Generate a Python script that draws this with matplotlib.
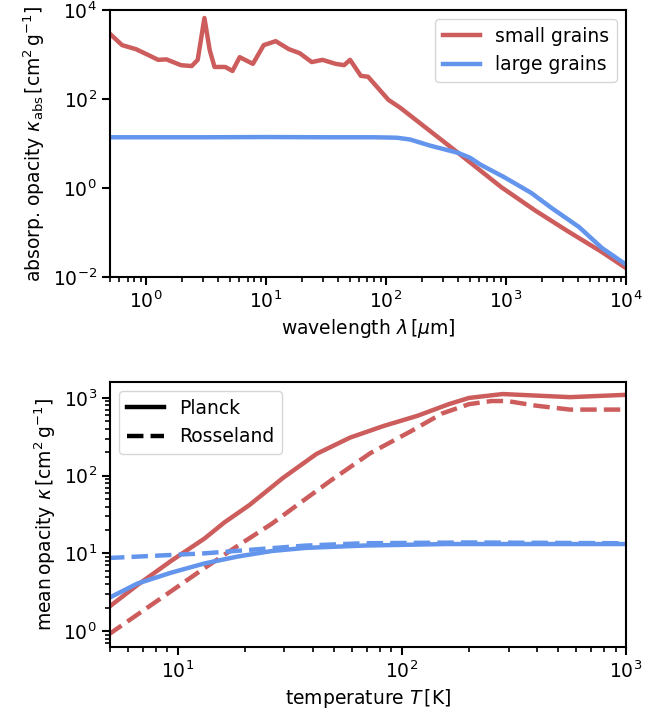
import numpy as np
import matplotlib
matplotlib.use("Agg")
import matplotlib.pyplot as plt
from matplotlib.ticker import NullLocator

# ---- top panel data: log10(wavelength [um]) and log10(kappa_abs [cm^2/g]) ----
small_loglam = [-0.30, -0.20, -0.085, 0.017, 0.10, 0.17, 0.29, 0.38, 0.43, 0.486, 0.53, 0.57,
                0.66, 0.72, 0.78, 0.89, 0.98, 1.08, 1.19, 1.28, 1.38, 1.47, 1.58, 1.65, 1.70,
                1.79, 1.85, 2.02, 2.12, 2.60, 2.96, 3.24, 3.52, 3.80, 4.0]
small_logk = [3.46, 3.21, 3.12, 2.99, 2.88, 2.89, 2.76, 2.74, 2.88, 3.82, 3.10, 2.72,
              2.72, 2.63, 2.94, 2.79, 3.21, 3.30, 3.12, 3.03, 2.83, 2.88, 2.79, 2.76, 2.88,
              2.52, 2.50, 1.98, 1.80, 0.79, 0.02, -0.50, -0.98, -1.44, -1.80]
large_loglam = [-0.30, 0.5, 1.0, 1.5, 1.9, 2.09, 2.20, 2.37, 2.50, 2.60, 2.70, 2.79, 2.98,
                3.07, 3.21, 3.38, 3.61, 3.80, 4.0]
large_logk = [1.14, 1.14, 1.145, 1.14, 1.14, 1.13, 1.09, 0.95, 0.86, 0.79, 0.68, 0.52, 0.25,
              0.11, -0.11, -0.45, -0.88, -1.35, -1.72]

# ---- bottom panel data: log10(T [K]) and log10(mean kappa [cm^2/g]) ----
sp_logT = [0.69, 0.82, 0.97, 1.12, 1.21, 1.32, 1.47, 1.62, 1.77, 1.92, 2.07, 2.21, 2.30,
           2.45, 2.60, 2.75, 3.0]
sp_logk = [0.30, 0.59, 0.90, 1.19, 1.40, 1.62, 1.97, 2.28, 2.49, 2.64, 2.77, 2.92, 3.00,
           3.05, 3.03, 3.01, 3.04]
sr_logT = [0.69, 0.82, 0.97, 1.12, 1.27, 1.42, 1.50, 1.68, 1.86, 2.04, 2.18, 2.30, 2.40,
           2.47, 2.60, 2.75, 3.0]
sr_logk = [-0.05, 0.21, 0.51, 0.81, 1.10, 1.38, 1.55, 1.93, 2.29, 2.57, 2.80, 2.92, 2.96,
           2.96, 2.90, 2.85, 2.85]
lp_logT = [0.69, 0.82, 0.97, 1.12, 1.27, 1.42, 1.57, 1.83, 2.2, 3.0]
lp_logk = [0.42, 0.61, 0.75, 0.87, 0.96, 1.03, 1.07, 1.10, 1.12, 1.12]
lr_logT = [0.69, 1.12, 1.57, 1.83, 2.3, 3.0]
lr_logk = [0.94, 1.00, 1.10, 1.13, 1.14, 1.13]

RED = "#CD5C5C"
BLUE = "#6495ED"

plt.rcParams['font.size'] = 13.5
plt.rcParams['mathtext.fontset'] = 'dejavusans'

fig = plt.figure(figsize=(6.70, 7.27), dpi=100)
W, H = 670, 727
ax1 = fig.add_axes([110 / W, 1 - 277 / H, 516 / W, 267 / H])
ax2 = fig.add_axes([110 / W, 1 - 647 / H, 516 / W, 265 / H])

p = lambda a: 10 ** np.asarray(a)

ax1.plot(p(small_loglam), p(small_logk), color=RED, lw=3.2, label="small grains")
ax1.plot(p(large_loglam), p(large_logk), color=BLUE, lw=3.2, label="large grains")
ax1.set_xscale("log")
ax1.set_yscale("log")
ax1.set_xlim(0.5, 1e4)
ax1.set_ylim(1e-2, 1e4)
ax1.set_yticks([1e-2, 1e0, 1e2, 1e4])
ax1.yaxis.set_minor_locator(NullLocator())
ax1.set_xlabel(r"wavelength $\lambda\,[\mu{\rm m}]$")
ax1.set_ylabel(r"absorp. opacity $\kappa_{\rm abs}\,[{\rm cm^2\,g^{-1}}]$")
ax1.legend(loc="upper right")

ax2.plot(p(sp_logT), p(sp_logk), color=RED, lw=3.2)
ax2.plot(p(sr_logT), p(sr_logk), color=RED, lw=3.2, ls="--")
ax2.plot(p(lp_logT), p(lp_logk), color=BLUE, lw=3.2)
ax2.plot(p(lr_logT), p(lr_logk), color=BLUE, lw=3.2, ls="--")
ax2.plot([], [], color="k", lw=3.2, label="Planck")
ax2.plot([], [], color="k", lw=3.2, ls="--", label="Rosseland")
ax2.set_xscale("log")
ax2.set_yscale("log")
ax2.set_xlim(5, 1000)
ax2.set_xlabel(r"temperature $T\,[{\rm K}]$")
ax2.set_ylabel(r"mean$\,$opacity $\kappa\,[{\rm cm^2\,g^{-1}}]$")
ax2.legend(loc="upper left")

for ax in (ax1, ax2):
    for s in ax.spines.values():
        s.set_linewidth(1.5)
    ax.tick_params(which="major", width=1.5, length=6)
    ax.tick_params(which="minor", width=1.2, length=3.5)

fig.savefig("out.png", dpi=100)
